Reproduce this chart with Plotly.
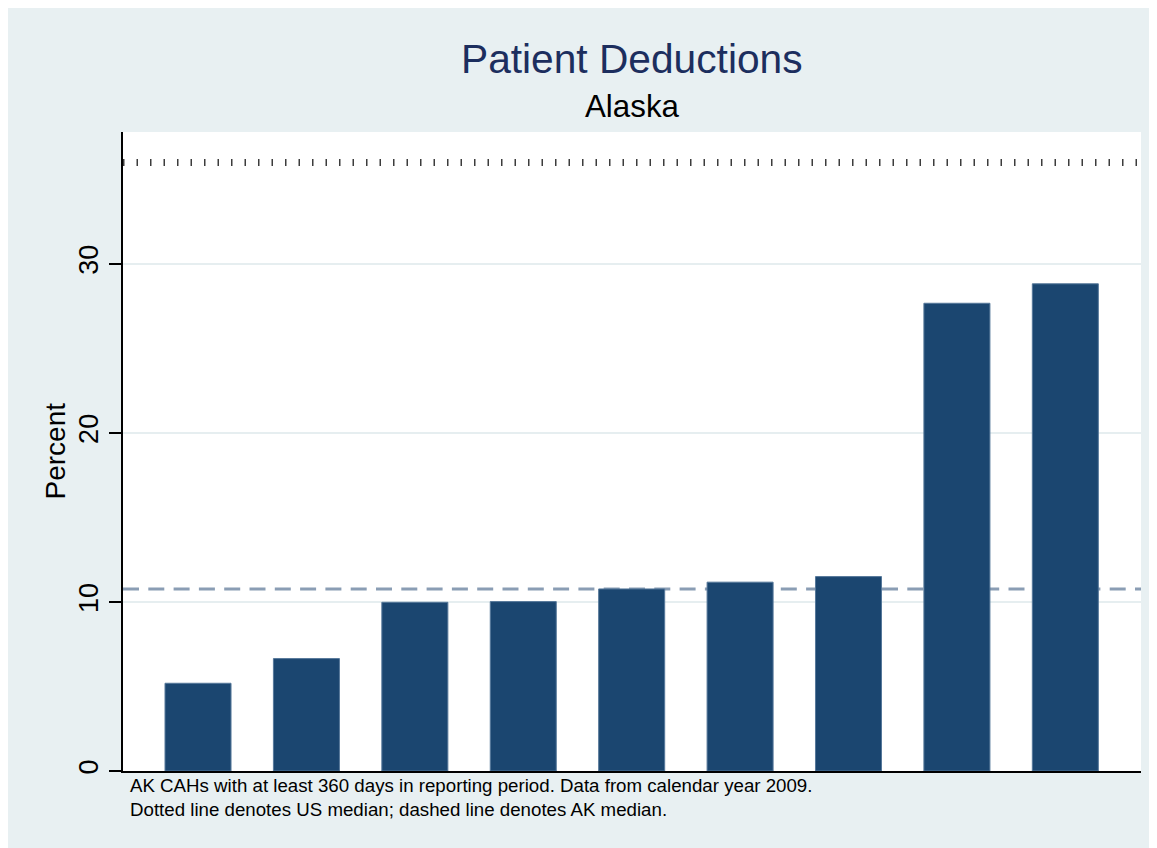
import plotly.graph_objects as go

# ---- data ----
hospitals = [1, 2, 3, 4, 5, 6, 7, 8, 9]
percent = [5.19, 6.65, 9.98, 10.02, 10.77, 11.17, 11.50, 27.67, 28.82]
us_median = 36.0
ak_median = 10.77
y_ticks = [0, 10, 20, 30]
y_tick_labels = ["0", "10", "20", "30"]

title_text = "Patient Deductions"
subtitle_text = "Alaska"
y_title = "Percent"
note_lines = [
    "AK CAHs with at least 360 days in reporting period. Data from calendar year 2009.",
    "Dotted line denotes US median; dashed line denotes AK median.",
]

# ---- style ----
FONT = "Liberation Sans, Arial, Helvetica, sans-serif"
BG = "#e8f0f2"
BAR = "#1b4670"

OFF = 8  # page body margin
W, H = 1157, 848
ML, MT = 123 - OFF, 132 - OFF
PW, PH = 1018, 639
MR = W - ML - PW
MB = H - MT - PH


def px_x(sx):
    # screen x -> paper x
    return (sx - OFF - ML) / PW


def px_y(sy):
    # screen y -> paper y
    return (MT + PH - (sy - OFF)) / PH


fig = go.Figure()
fig.add_trace(go.Bar(
    x=hospitals, y=percent,
    marker=dict(color=BAR, line=dict(color="#56789a", width=1)),
    hoverinfo="y",
))

# medians
fig.add_hline(y=us_median, line=dict(color="#3c3c3c", width=7, dash="1.5px,12px"),
              layer="below")
fig.add_hline(y=ak_median, line=dict(color="#8a9db4", width=3, dash="16px,9.3px"),
              layer="below")

annotations = [
    dict(text=title_text, x=0.5, y=px_y(59), xref="paper", yref="paper",
         xanchor="center", yanchor="middle", showarrow=False,
         font=dict(family=FONT, size=40.7, color="#1c2e5e")),
    dict(text=subtitle_text, x=0.5, y=px_y(106), xref="paper", yref="paper",
         xanchor="center", yanchor="middle", showarrow=False,
         font=dict(family=FONT, size=31.3, color="black")),
    dict(text=y_title, x=px_x(55), y=0.5, xref="paper", yref="paper",
         xanchor="center", yanchor="middle", showarrow=False, textangle=-90,
         font=dict(family=FONT, size=28, color="black")),
    dict(text="<br>".join(note_lines), x=px_x(128), y=px_y(797),
         xref="paper", yref="paper", align="left",
         xanchor="left", yanchor="middle", showarrow=False,
         font=dict(family=FONT, size=18.7, color="black")),
]

fig.update_layout(
    width=W, height=H,
    margin=dict(l=ML, r=MR, t=MT, b=MB),
    paper_bgcolor=BG,
    plot_bgcolor="white",
    showlegend=False,
    bargap=0.391,
    font=dict(family=FONT, color="black"),
    annotations=annotations,
    xaxis=dict(
        range=[0.308, 9.698],
        showgrid=False, zeroline=False,
        showticklabels=False, ticks="",
        showline=True, linecolor="black", linewidth=2,
        fixedrange=True,
    ),
    yaxis=dict(
        range=[0, 37.8],
        tickvals=y_ticks, ticktext=y_tick_labels,
        tickangle=-90,
        tickfont=dict(family=FONT, size=27, color="black"),
        ticks="outside", ticklen=12, tickwidth=2, tickcolor="black",
        showgrid=True, gridcolor="#e6eef0", gridwidth=2,
        zeroline=False,
        showline=True, linecolor="black", linewidth=2,
        fixedrange=True,
    ),
)

fig.write_html("out.html")
